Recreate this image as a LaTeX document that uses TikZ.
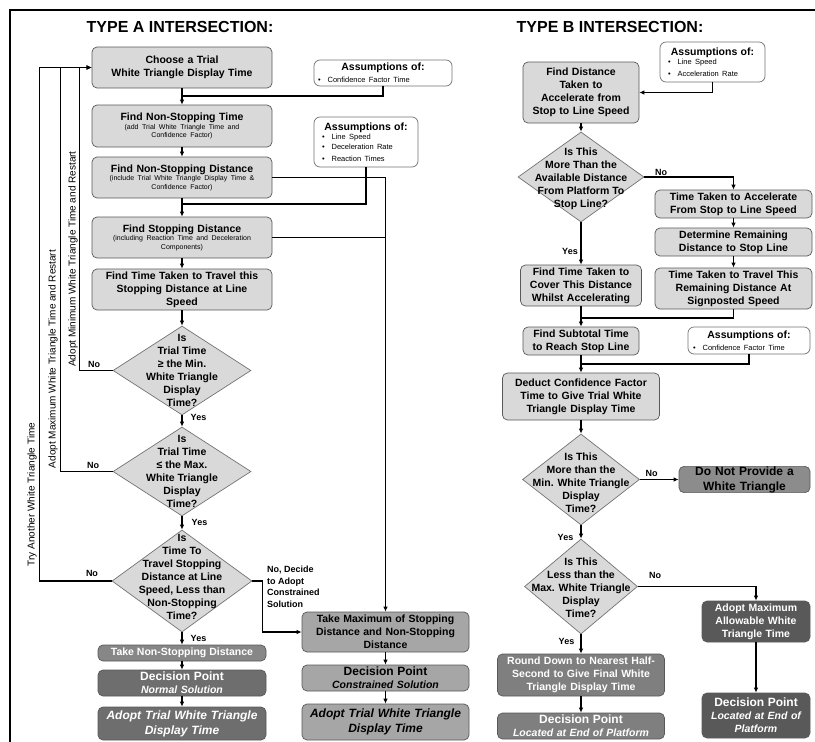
\documentclass[tikz,border=0pt]{standalone}
\usepackage{fontspec}
\setmainfont{Liberation Sans}
\usetikzlibrary{shapes.geometric}
\usetikzlibrary{arrows.meta}

\definecolor{boxlight}{HTML}{D9D9D9}
\definecolor{boxmid}{HTML}{A6A6A6}
\definecolor{boxgrey}{HTML}{878787}
\definecolor{boxdark}{HTML}{6E6E6E}
\definecolor{boxdarker}{HTML}{595959}
\definecolor{boxround}{HTML}{7F7F7F}
\definecolor{boxno}{HTML}{8C8C8C}

\newcommand{\boxtxt}{\fontsize{10.5}{13}\selectfont\bfseries}
\newcommand{\subtxt}[1]{\par{\mdseries\fontsize{7}{8.5}\selectfont #1\par}}
\newcommand{\bigtxt}{\fontsize{12}{14}\selectfont}
\newcommand{\adopttxt}{\fontsize{12}{15}\selectfont\bfseries\itshape}
\newcommand{\asmhead}{{\centering\fontsize{10.5}{12}\selectfont\bfseries Assumptions of:\par}\fontsize{7.5}{9.5}\selectfont}

\begin{document}
\begin{tikzpicture}[x=1pt,y=-1pt,
		box/.style={draw=black!65, line width=0.7pt, rounded corners=5pt, fill=boxlight, align=center, inner sep=2pt, font=\boxtxt},
		note/.style={draw=black!55, line width=0.7pt, rounded corners=6pt, fill=white, align=left, inner ysep=2pt},
		dia/.style={diamond, draw=black!55, line width=0.7pt, fill=boxlight, inner sep=0pt},
		dtext/.style={align=center, font=\boxtxt, inner sep=0pt},
		lbl/.style={font=\fontsize{9}{11.5}\selectfont\bfseries, inner sep=0pt},
		side/.style={rotate=90, font=\fontsize{10}{12}\selectfont, inner sep=0pt},
		ln/.style={line width=1.5pt},
		arr/.style={line width=1.5pt, -{Latex[length=5pt,width=4.5pt]}}]
		\useasboundingbox (0,0) rectangle (815,742);
		\draw[line width=1.5pt] (10,742) -- (10,10) -- (815,10);
		
		\node[font=\fontsize{16}{19}\selectfont\bfseries] (titleA) at (180,27) {TYPE A INTERSECTION:};
		\node[font=\fontsize{16}{19}\selectfont\bfseries] (titleB) at (610,27) {TYPE B INTERSECTION:};
		
		\node[box, minimum width=180pt, text width=174pt, minimum height=41pt] (choose) at (182,67.5) {Choose a Trial\\White Triangle Display Time};
		\node[box, minimum width=180pt, text width=174pt, minimum height=42pt] (nstime) at (182,126) {Find Non-Stopping Time\subtxt{(add Trial White Triangle Time and\\Confidence Factor)}};
		\node[box, minimum width=180pt, text width=174pt, minimum height=41pt] (nsdist) at (182,177.5) {Find Non-Stopping Distance\subtxt{(include Trial White Triangle Display Time \&\\Confidence Factor)}};
		\node[box, minimum width=180pt, text width=174pt, minimum height=41pt] (sdist) at (182,237.5) {Find Stopping Distance\subtxt{(including Reaction Time and Deceleration\\Components)}};
		\node[box, minimum width=180pt, text width=174pt, minimum height=41pt] (ttime) at (182,289.5) {Find Time Taken to Travel this\\Stopping Distance at Line\\Speed};
		\node[note, minimum width=138pt, text width=130pt, inner xsep=4pt, minimum height=26pt] (assumA1) at (383,73) {\asmhead\textbullet\hspace{7pt}Confidence Factor Time};
		\node[note, minimum width=104pt, text width=88pt, inner xsep=8pt, minimum height=50pt] (assumA2) at (366,142) {\asmhead\textbullet\hspace{7pt}Line Speed\\\textbullet\hspace{7pt}Deceleration Rate\\\textbullet\hspace{7pt}Reaction Times};
		
		\node[dia, minimum width=138pt, minimum height=89pt] (dia1) at (182,370.5) {};
		\node[dtext] (dia1t) at (182,370) {Is\\Trial Time\\≥ the Min.\\White Triangle\\Display\\Time?};
		\node[dia, minimum width=138pt, minimum height=89pt] (dia2) at (182,471.5) {};
		\node[dtext] (dia2t) at (182,471) {Is\\Trial Time\\≤ the Max.\\White Triangle\\Display\\Time?};
		\node[dia, minimum width=140pt, minimum height=102pt] (dia3) at (182,581) {};
		\node[dtext] (dia3t) at (182,577) {Is\\Time To\\Travel Stopping\\Distance at Line\\Speed, Less than\\Non-Stopping\\Time?};
		
		\node[box, fill=boxgrey, text=white, minimum width=168pt, minimum height=16pt, inner ysep=0pt] (takens) at (182,653) {Take Non-Stopping Distance};
		\node[box, fill=boxdark, text=white, minimum width=168pt, text width=162pt, minimum height=26pt, inner ysep=0pt] (decnorm) at (182,683) {{\bigtxt Decision Point\par}{\itshape Normal Solution}};
		\node[box, fill=boxdark, text=white, minimum width=168pt, text width=162pt, minimum height=33pt, font=\adopttxt] (adoptA) at (182,723.5) {Adopt Trial White Triangle\\Display Time};
		
		\node[box, fill=boxmid, minimum width=167pt, text width=161pt, minimum height=40pt] (takemax) at (385.5,632) {Take Maximum of Stopping\\Distance and Non-Stopping\\Distance};
		\node[box, fill=boxmid, minimum width=167pt, text width=161pt, minimum height=26pt, inner ysep=0pt] (decons) at (385.5,678) {{\bigtxt Decision Point\par}{\itshape Constrained Solution}};
		\node[box, fill=boxmid, minimum width=167pt, text width=161pt, minimum height=36pt, font=\adopttxt] (adoptB) at (385.5,722) {Adopt Trial White Triangle\\Display Time};
		
		\node[side] (lblmin) at (73,259) {Adopt Minimum White Triangle Time and Restart};
		\node[side] (lblmax) at (53,359) {Adopt Maximum White Triangle Time and Restart};
		\node[side] (lbltry) at (32,494.5) {Try Another White Triangle Time};
		
		\node[lbl] (no1) at (94,364) {No};
		\node[lbl] (no2) at (93,465) {No};
		\node[lbl] (no3) at (92,573) {No};
		\node[lbl] (yes1) at (198.5,417) {Yes};
		\node[lbl] (yes2) at (199.5,522) {Yes};
		\node[lbl] (yes3) at (198.5,638) {Yes};
		\node[lbl, align=left, anchor=west] (nodecide) at (267,587) {No, Decide\\to Adopt\\Constrained\\Solution};
		
		\coordinate (jA1) at (182,96);
		\coordinate (jA2) at (182,204);
		\draw[arr] (choose) -- (nstime);
		\draw[ln] (assumA1.south) |- (jA1);
		\draw[arr] (nstime) -- (nsdist);
		\draw[arr] (nsdist) -- (sdist);
		\draw[ln] (assumA2.south) |- (jA2);
		\draw[arr] (sdist) -- (ttime);
		\draw[arr] (ttime) -- (dia1);
		\draw[arr] (dia1) -- (dia2);
		\draw[arr] (dia2) -- (dia3);
		\draw[arr] (dia3) -- (takens);
		\draw[arr] (takens) -- (decnorm);
		\draw[arr] (decnorm) -- (adoptA);
		\draw[arr] (nsdist.east) -| (takemax.north);
		\draw[ln] (sdist.east) -- (sdist.east -| takemax.north);
		\draw[arr] (dia3.east) -- ++(10,0) |- (takemax.west);
		\draw[arr] (takemax) -- (decons);
		\draw[arr] (decons) -- (adoptB);
		\draw[arr] (dia1.west) -- ++(-33,0) |- (choose.west);
		\draw[arr] (dia2.west) -- ++(-52,0) |- (choose.west);
		\draw[arr] (dia3.west) -- ++(-72,0) |- (choose.west);
		
		\node[note, minimum width=105pt, text width=89pt, inner xsep=8pt, minimum height=40pt] (assumB1) at (712.5,62) {\asmhead\textbullet\hspace{7pt}Line Speed\\\textbullet\hspace{7pt}Acceleration Rate};
		\node[box, minimum width=116pt, text width=110pt, minimum height=61pt] (fdist) at (581,92.5) {Find Distance\\Taken to\\Accelerate from\\Stop to Line Speed};
		\node[dia, minimum width=126pt, minimum height=90pt] (diaB1) at (581,177) {};
		\node[dtext] (diaB1t) at (581,179) {Is This\\More Than the\\Available Distance\\From Platform To\\Stop Line?};
		\node[box, minimum width=157pt, text width=151pt, minimum height=28pt] (tacc) at (733.5,204) {Time Taken to Accelerate\\From Stop to Line Speed};
		\node[box, minimum width=157pt, text width=151pt, minimum height=28pt] (remdist) at (733.5,242) {Determine Remaining\\Distance to Stop Line};
		\node[box, minimum width=157pt, text width=151pt, minimum height=41pt] (ttravel) at (733.5,288.5) {Time Taken to Travel This\\Remaining Distance At\\Signposted Speed};
		\node[box, minimum width=121pt, text width=115pt, minimum height=41pt] (fcover) at (581,285.5) {Find Time Taken to\\Cover This Distance\\Whilst Accelerating};
		\node[box, minimum width=116pt, text width=110pt, minimum height=28pt] (subtotal) at (581,341) {Find Subtotal Time\\to Reach Stop Line};
		\node[note, minimum width=122pt, text width=112pt, inner xsep=5pt, minimum height=27pt] (assumB2) at (749,340.5) {\asmhead\textbullet\hspace{7pt}Confidence Factor Time};
		\node[box, minimum width=157pt, text width=151pt, minimum height=47pt] (deduct) at (581,396.5) {Deduct Confidence Factor\\Time to Give Trial White\\Triangle Display Time};
		\node[dia, minimum width=117pt, minimum height=91pt] (diaB2) at (581,479.5) {};
		\node[dtext] (diaB2t) at (581,483) {Is This\\More than the\\Min. White Triangle\\Display\\Time?};
		\node[box, fill=boxno, minimum width=131pt, text width=125pt, minimum height=26pt, inner ysep=0pt, font=\fontsize{12}{15}\selectfont\bfseries] (nowt) at (744.5,479.5) {Do Not Provide a\\White Triangle};
		\node[dia, minimum width=113pt, minimum height=95pt] (diaB3) at (581,586.5) {};
		\node[dtext] (diaB3t) at (581,588) {Is This\\Less than the\\Max. White Triangle\\Display\\Time?};
		\node[box, fill=boxdarker, text=white, minimum width=108pt, text width=102pt, minimum height=41pt] (adoptmax) at (756,621.5) {Adopt Maximum\\Allowable White\\Triangle Time};
		\node[box, fill=boxdarker, text=white, minimum width=108pt, text width=102pt, minimum height=45pt] (decB2) at (756,715.5) {{\bigtxt Decision Point\par}{\itshape Located at End of\\Platform}};
		\node[box, fill=boxround, text=white, minimum width=167pt, text width=161pt, minimum height=42pt] (rounddown) at (581,675) {Round Down to Nearest Half-\\Second to Give Final White\\Triangle Display Time};
		\node[box, fill=boxround, text=white, minimum width=167pt, text width=161pt, minimum height=26pt, inner ysep=0pt] (decB1) at (581,726) {{\bigtxt Decision Point\par}{\itshape Located at End of Platform}};
		
		\node[lbl] (noB1) at (661,172) {No};
		\node[lbl] (noB2) at (651.5,473) {No};
		\node[lbl] (noB3) at (655,575) {No};
		\node[lbl] (yesB1) at (570,251) {Yes};
		\node[lbl] (yesB2) at (565.5,537) {Yes};
		\node[lbl] (yesB3) at (566.5,641) {Yes};
		
		\coordinate (jB1) at (581,318);
		\coordinate (jB2) at (581,364);
		\draw[arr] (assumB1.south) |- (fdist.east);
		\draw[arr] (fdist) -- (diaB1);
		\draw[arr] (diaB1.east) -| (tacc.north);
		\draw[arr] (tacc) -- (remdist);
		\draw[arr] (remdist) -- (ttravel);
		\draw[arr] (diaB1) -- (fcover);
		\draw[arr] (fcover) -- (subtotal);
		\draw[ln] (ttravel.south) |- (jB1);
		\draw[ln] (assumB2.south) |- (jB2);
		\draw[arr] (subtotal) -- (deduct);
		\draw[arr] (deduct) -- (diaB2);
		\draw[arr] (diaB2) -- (nowt);
		\draw[arr] (diaB2) -- (diaB3);
		\draw[arr] (diaB3.east) -| (adoptmax.north);
		\draw[arr] (adoptmax) -- (decB2);
		\draw[arr] (diaB3) -- (rounddown);
		\draw[arr] (rounddown) -- (decB1);
	\end{tikzpicture}
\end{document}
